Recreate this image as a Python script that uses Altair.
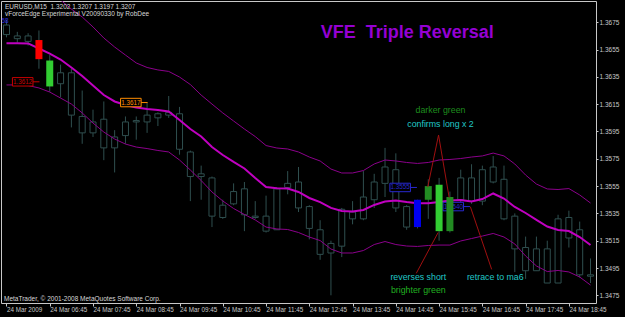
import altair as alt
import pandas as pd

# ---------------- data ----------------
bars = list(range(55))  # 15-minute bars, 0 = 24 Mar 05:45

opens = [1.3673, 1.3663, 1.3665, 1.3662, 1.3647, 1.3630, 1.3638, 1.3606, 1.3594, 1.3604,
         1.3583, 1.3592, 1.3602, 1.3602, 1.3605, 1.3607, 1.3608, 1.3580, 1.3562, 1.3561,
         1.3532, 1.3542, 1.3553, 1.3533, 1.3533, 1.3523, 1.3554, 1.3558, 1.3540, 1.3523,
         1.3506, 1.3511, 1.3536, 1.3531, 1.3545, 1.3557, 1.3567, 1.3540, 1.3525, 1.3545,
         1.3556, 1.3522, 1.3545, 1.3561, 1.3544, 1.3558, 1.3560, 1.3533, 1.3510, 1.3493,
         1.3509, 1.3484, 1.3532, 1.3523, 1.3490]
highs = [1.3677, 1.3668, 1.3667, 1.3669, 1.3651, 1.3644, 1.3641, 1.3625, 1.3611, 1.3617,
         1.3596, 1.3606, 1.3606, 1.3616, 1.3609, 1.3621, 1.3613, 1.3581, 1.3570, 1.3562,
         1.3545, 1.3557, 1.3558, 1.3544, 1.3548, 1.3554, 1.3566, 1.3569, 1.3541, 1.3530,
         1.3515, 1.3539, 1.3544, 1.3566, 1.3564, 1.3583, 1.3579, 1.3541, 1.3545, 1.3560,
         1.3561, 1.3551, 1.3567, 1.3571, 1.3570, 1.3577, 1.3570, 1.3535, 1.3518, 1.3518,
         1.3515, 1.3534, 1.3537, 1.3529, 1.3502]
lows = [1.3664, 1.3660, 1.3658, 1.3641, 1.3624, 1.3620, 1.3598, 1.3586, 1.3591, 1.3574,
        1.3565, 1.3586, 1.3589, 1.3594, 1.3599, 1.3605, 1.3578, 1.3544, 1.3545, 1.3525,
        1.3531, 1.3541, 1.3522, 1.3531, 1.3521, 1.3523, 1.3549, 1.3536, 1.3516, 1.3501,
        1.3475, 1.3503, 1.3527, 1.3530, 1.3539, 1.3547, 1.3536, 1.3523, 1.3524, 1.3531,
        1.3515, 1.3521, 1.3543, 1.3542, 1.3541, 1.3557, 1.3530, 1.3492, 1.3487, 1.3493,
        1.3484, 1.3484, 1.3510, 1.3488, 1.3484]
closes = [1.3666, 1.3665, 1.3661, 1.3648, 1.3628, 1.3638, 1.3607, 1.3594, 1.3602, 1.3583,
          1.3591, 1.3602, 1.3603, 1.3607, 1.3608, 1.3609, 1.3582, 1.3562, 1.3564, 1.3533,
          1.3541, 1.3551, 1.3534, 1.3532, 1.3522, 1.3553, 1.3557, 1.3539, 1.3524, 1.3505,
          1.3513, 1.3538, 1.3531, 1.3547, 1.3558, 1.3569, 1.3539, 1.3525, 1.3545, 1.3555,
          1.3522, 1.3547, 1.3561, 1.3544, 1.3567, 1.3569, 1.3531, 1.3509, 1.3493, 1.3509,
          1.3484, 1.3531, 1.3517, 1.3490, 1.3489]

ma_mid = [1.36596, 1.36596, 1.36595, 1.36558, 1.36521, 1.36477, 1.36419, 1.36357, 1.36287, 1.36217,
          1.36170, 1.36144, 1.36126, 1.36115, 1.36108, 1.36097, 1.36034, 1.35968, 1.35913, 1.35836,
          1.35778, 1.35727, 1.35679, 1.35609, 1.35543, 1.35534, 1.35532, 1.35507, 1.35463, 1.35433,
          1.35390, 1.35368, 1.35364, 1.35375, 1.35412, 1.35437, 1.35445, 1.35433, 1.35424, 1.35424,
          1.35433, 1.35444, 1.35448, 1.35437, 1.35455, 1.35496, 1.35459, 1.35397, 1.35353, 1.35302,
          1.35254, 1.35228, 1.35221, 1.35177, 1.35118]
band_up = [1.37023, 1.37016, 1.37009, 1.36987, 1.36950, 1.36913, 1.36847, 1.36789, 1.36716, 1.36635,
           1.36569, 1.36510, 1.36452, 1.36419, 1.36401, 1.36390, 1.36349, 1.36294, 1.36217, 1.36151,
           1.36086, 1.36027, 1.35968, 1.35913, 1.35847, 1.35829, 1.35822, 1.35800, 1.35763, 1.35734,
           1.35675, 1.35646, 1.35646, 1.35664, 1.35712, 1.35741, 1.35734, 1.35723, 1.35716, 1.35723,
           1.35741, 1.35745, 1.35752, 1.35763, 1.35771, 1.35792, 1.35771, 1.35712, 1.35631, 1.35565,
           1.35529, 1.35525, 1.35532, 1.35485, 1.35426]
band_lo = [1.36291, 1.36291, 1.36287, 1.36269, 1.36239, 1.36195, 1.36151, 1.36086, 1.36012, 1.35946,
           1.35895, 1.35858, 1.35836, 1.35825, 1.35811, 1.35800, 1.35741, 1.35668, 1.35591, 1.35507,
           1.35441, 1.35386, 1.35342, 1.35302, 1.35250, 1.35236, 1.35232, 1.35210, 1.35177, 1.35151,
           1.35089, 1.35060, 1.35060, 1.35078, 1.35122, 1.35144, 1.35122, 1.35111, 1.35108, 1.35115,
           1.35118, 1.35118, 1.35148, 1.35166, 1.35184, 1.35203, 1.35177, 1.35126, 1.35038, 1.34965,
           1.34924, 1.34932, 1.34921, 1.34884, 1.34825]

colored_bars = [3, 4, 38, 39, 40, 41]
colored_fills = ["#FF0000", "#32CD32", "#0000F0", "#228B22", "#32CD32", "#228B22"]

tick_k = [0, 4, 8, 12, 16, 20, 24, 28, 32, 36, 40, 44, 48, 52]
tick_labels = ["24 Mar 2009", "24 Mar 06:45", "24 Mar 07:45", "24 Mar 08:45", "24 Mar 09:45",
               "24 Mar 10:45", "24 Mar 11:45", "24 Mar 12:45", "24 Mar 13:45", "24 Mar 14:45",
               "24 Mar 15:45", "24 Mar 16:45", "24 Mar 17:45", "24 Mar 18:45"]
y_ticks = [1.3475, 1.3495, 1.3515, 1.3535, 1.3555, 1.3575, 1.3595, 1.3615, 1.3635, 1.3655, 1.3675]

label_texts = ["1.3612", "1.3617", "1.3555", "1.3540"]
label_prices = [1.36314, 1.36162, 1.35540, 1.35400]
label_end_k = [3.05, 13.05, 37.95, 42.86]
label_colors = ["#C80000", "#FF8C00", "#2828D0", "#2828D0"]

arrow_x = [39.95, 39.95, 37.89, 44.86]
arrow_y = [1.35924, 1.35924, 1.34911, 1.34940]
arrow_x2 = [38.95, 40.93, 39.91, 42.89]
arrow_y2 = [1.35543, 1.35466, 1.35210, 1.35399]

# ---------------- frames ----------------
df = pd.DataFrame({"k": bars, "open": opens, "high": highs, "low": lows, "close": closes,
                   "mid": ma_mid, "up": band_up, "lo": band_lo})
df["top"] = df[["open", "close"]].max(axis=1)
df["bottom"] = df[["open", "close"]].min(axis=1)
fill_map = dict(zip(colored_bars, colored_fills))
df["fill"] = [fill_map.get(k, "none") for k in bars]
hollow = df[df["fill"] == "none"]
colored = df[df["fill"] != "none"]

lab = pd.DataFrame({"text": label_texts, "price": label_prices, "end": label_end_k,
                    "color": label_colors})
lab["bx1"] = lab["end"] - 2.5
lab["bx2"] = lab["end"] - 0.6
lab["by1"] = lab["price"] - 0.00031
lab["by2"] = lab["price"] + 0.00031
lab["tx"] = (lab["bx1"] + lab["bx2"]) / 2

arr = pd.DataFrame({"x": arrow_x, "y": arrow_y, "x2": arrow_x2, "y2": arrow_y2})

GRAY = "#2F4F4F"
AX = "#C8C8C8"
FONT = "Liberation Sans"

xs = alt.Scale(domain=[-0.045, 54.045], nice=False, zero=False)
ys = alt.Scale(domain=[1.346936, 1.36906], nice=False, zero=False)

label_expr = "[" + ",".join("'" + s + "'" for s in tick_labels) + "][round(datum.value / 4)]"

x_axis = alt.Axis(values=tick_k, labelExpr=label_expr, tickSize=3, labelPadding=0,
                  labelAlign="left", labelFontSize=6.3, labelFont=FONT,
                  labelColor=AX, tickColor=AX, domain=False, grid=False, title=None,
                  labelFlush=False, labelOverlap=False, labelBound=False)
y_axis = alt.Axis(values=y_ticks, format=".4f", orient="right", tickSize=2, labelPadding=1,
                  labelFontSize=6.5, labelFont=FONT, labelColor=AX, tickColor=AX,
                  domain=False, grid=False, title=None, labelFlush=False, labelOverlap=False)


def X(field):
    return alt.X(field, type="quantitative", scale=xs, axis=x_axis)


def Y(field):
    return alt.Y(field, type="quantitative", scale=ys, axis=y_axis)


wicks = alt.Chart(df).mark_rule(color=GRAY, strokeWidth=1).encode(
    x=X("k"), y=Y("low"), y2="high:Q")

bodies = alt.Chart(hollow).mark_bar(fill="black", stroke=GRAY, strokeWidth=1, size=6).encode(
    x=X("k"), y=Y("bottom"), y2="top:Q")

line_up = alt.Chart(df).mark_line(color="#8B008B", strokeWidth=1, clip=True).encode(
    x=X("k"), y=Y("up"))
line_lo = alt.Chart(df).mark_line(color="#8B008B", strokeWidth=1, clip=True).encode(
    x=X("k"), y=Y("lo"))
line_mid = alt.Chart(df).mark_line(color="#C000C0", strokeWidth=2, clip=True).encode(
    x=X("k"), y=Y("mid"))

lab_box = alt.Chart(lab).mark_rect(fill="black", strokeWidth=1).encode(
    x=X("bx1"), x2="bx2:Q", y=Y("by1"), y2="by2:Q",
    stroke=alt.Color("color:N", scale=None))
lab_line = alt.Chart(lab).mark_rule(strokeWidth=1).encode(
    x=X("bx2"), x2="end:Q", y=Y("price"),
    color=alt.Color("color:N", scale=None))
lab_text = alt.Chart(lab).mark_text(font=FONT, fontSize=6.3, align="center", baseline="middle").encode(
    x=X("tx"), y=Y("price"), text="text:N",
    color=alt.Color("color:N", scale=None))

col_bodies = alt.Chart(colored).mark_bar(size=7).encode(
    x=X("k"), y=Y("bottom"), y2="top:Q",
    color=alt.Color("fill:N", scale=None))

arrows = alt.Chart(arr).mark_rule(color="#A01010", strokeWidth=1).encode(
    x=X("x"), y=Y("y"), x2="x2:Q", y2="y2:Q")

one = pd.DataFrame({"a": [0]})


def txt(s, x, y, color, size, align="left", baseline="alphabetic", weight="normal"):
    return alt.Chart(one).mark_text(text=s, font=FONT, fontSize=size, color=color, align=align,
                                    baseline=baseline, fontWeight=weight).encode(
        x=alt.value(x), y=alt.value(y))


NB = "\u00a0"
texts = [
    txt("EURUSD,M15" + NB + " 1.3202 1.3207 1.3197 1.3207", 4, 5.5, "#D8D8D8", 6.5, baseline="middle"),
    txt("vForceEdge Experimental V20090330 by RobDee", 4, 13.3, "#D8D8D8", 6.5, baseline="middle"),
    txt("58", 0.5, 19.5, "#3030E0", 6.3, baseline="middle"),
    txt("VFE" + NB + " Triple Reversal", 319.7, 37.3, "#9400D3", 18, weight="bold"),
    txt("darker green", 439.5, 111.7, "#1E8C1E", 8.8, align="center"),
    txt("confirms long x 2", 439.5, 125.7, "#20C8C8", 8.8, align="center"),
    txt("reverses short", 417.3, 279.3, "#20C8C8", 8.8, align="center"),
    txt("brighter green", 417.3, 291.7, "#20B020", 8.8, align="center"),
    txt("retrace to ma6", 494.3, 278.7, "#20C8C8", 8.8, align="center"),
    txt("MetaTrader, \u00a9 2001-2008 MetaQuotes Software Corp.", 3, 300, "#D8D8D8", 6.5),
]

chart = alt.layer(
    wicks, bodies, line_up, line_lo, line_mid, lab_box, lab_line, lab_text, col_bodies, arrows, *texts
).properties(
    width=595, height=302, background="black",
    padding={"left": 1, "top": 1, "right": 29, "bottom": 14},
    autosize=alt.AutoSizeParams(type="none"),
).configure_view(stroke="#C8C8C8", strokeWidth=1)

chart.save("out.html", embed_options={"renderer": "svg", "actions": False})
